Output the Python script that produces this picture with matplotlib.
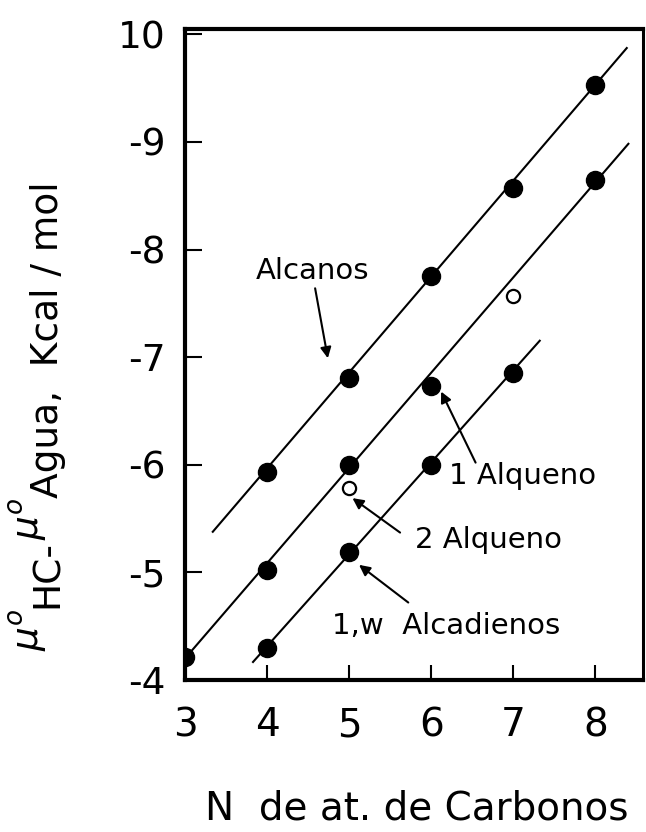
import matplotlib
matplotlib.use("Agg")
import matplotlib.pyplot as plt

plt.rcParams["font.family"] = ["DejaVu Sans"]
plt.rcParams["mathtext.fontset"] = "dejavusans"

# data (kcal/mol vs number of carbons)
alcanos_x = [4, 5, 6, 7, 8]
alcanos_y = [-5.93, -6.81, -7.75, -8.57, -9.53]

alqueno1_x = [3, 4, 5, 6, 8]
alqueno1_y = [-4.21, -5.02, -6.00, -6.73, -8.65]

alcadienos_x = [4, 5, 6, 7]
alcadienos_y = [-4.30, -5.19, -6.00, -6.85]

alqueno2_x = [5, 7]
alqueno2_y = [-5.78, -7.57]

# fitted lines, endpoints as drawn in the figure
alcanos_line_x = [3.33, 8.39]
alcanos_line_y = [-5.37, -9.88]
alqueno1_line_x = [3.0, 8.41]
alqueno1_line_y = [-4.20, -8.99]
alcadienos_line_x = [3.82, 7.33]
alcadienos_line_y = [-4.16, -7.16]

x_ticks = [3, 4, 5, 6, 7, 8]
y_ticks = [-4, -5, -6, -7, -8, -9, -10]
y_tick_labels = ["-4", "-5", "-6", "-7", "-8", "-9", "10"]

# y label pieces: (text, raised?)
ylabel_parts = [(r"$\mu^o$", True), ("HC-", False), (r"$\mu^o$", True),
                ("Agua,  Kcal / mol", False)]

W, H = 646, 832
fig = plt.figure(figsize=(W / 100, H / 100), dpi=100)
ax = fig.add_axes([0.2864, 0.1827, 0.709, 0.7825])

# lines
for lx, ly in [(alcanos_line_x, alcanos_line_y),
               (alqueno1_line_x, alqueno1_line_y),
               (alcadienos_line_x, alcadienos_line_y)]:
    ax.plot(lx, ly, color="black", lw=1.5, solid_capstyle="butt")

# filled points
for px, py in [(alcanos_x, alcanos_y), (alqueno1_x, alqueno1_y),
               (alcadienos_x, alcadienos_y)]:
    ax.plot(px, py, "o", color="black", ms=13, ls="none")

# open points (2 alqueno)
ax.plot(alqueno2_x, alqueno2_y, "o", mfc="white", mec="black", mew=1.6,
        ms=9.5, ls="none")

ax.set_xlim(3, 8.58)
ax.set_ylim(-4, -10.05)

ax.set_xticks(x_ticks)
ax.set_xticklabels([str(v) for v in x_ticks])
ax.set_yticks(y_ticks)
ax.set_yticklabels(y_tick_labels)

ax.tick_params(axis="x", direction="in", length=11, width=1.5, pad=19,
               labelsize=28)
ax.tick_params(axis="y", direction="in", length=12, width=1.5, pad=14,
               labelsize=27)

for side in ["left", "bottom", "top"]:
    ax.spines[side].set_linewidth(3)
ax.spines["right"].set_linewidth(2.2)

# annotations
arrow = dict(arrowstyle="-|>", color="black", lw=1.5, mutation_scale=16,
             shrinkA=0, shrinkB=0)
ax.text(4.55, -7.80, "Alcanos", fontsize=21, ha="center", va="center")
ax.annotate("", xy=(4.74, -6.99), xytext=(4.585, -7.64), arrowprops=arrow)

ax.text(7.11, -5.90, "1 Alqueno", fontsize=21, ha="center", va="center")
ax.annotate("", xy=(6.12, -6.68), xytext=(6.54, -6.02), arrowprops=arrow)

ax.text(6.70, -5.30, "2 Alqueno", fontsize=21, ha="center", va="center")
ax.annotate("", xy=(5.04, -5.69), xytext=(5.62, -5.37), arrowprops=arrow)

ax.text(6.18, -4.50, "1,w  Alcadienos", fontsize=21, ha="center", va="center")
ax.annotate("", xy=(5.12, -5.07), xytext=(5.72, -4.72), arrowprops=arrow)

# x label
fig.text(417 / W, 1 - 808 / H, "N  de at. de Carbonos", fontsize=28,
         ha="center", va="center")

# y label, built piece by piece so the mu's sit raised like in the scan
renderer = fig.canvas.get_renderer()
base_x = 58      # pixel column of the baseline
raise_px = 19
texts = []
y_cursor = 0.0
for txt, raised in ylabel_parts:
    x = base_x - (raise_px if raised else 0)
    t = fig.text(x / W, y_cursor / H, txt, rotation=90, rotation_mode="anchor",
                 ha="left", va="baseline", fontsize=27)
    bb = t.get_window_extent(renderer)
    texts.append(t)
    y_cursor += bb.height
# centre the whole label vertically on the reference span
total = y_cursor
start = (1 - 416 / H) * H - total / 2
for t in texts:
    x, y = t.get_position()
    t.set_position((x, (y * H + start) / H))

fig.savefig("out.png", dpi=100, facecolor="white")
